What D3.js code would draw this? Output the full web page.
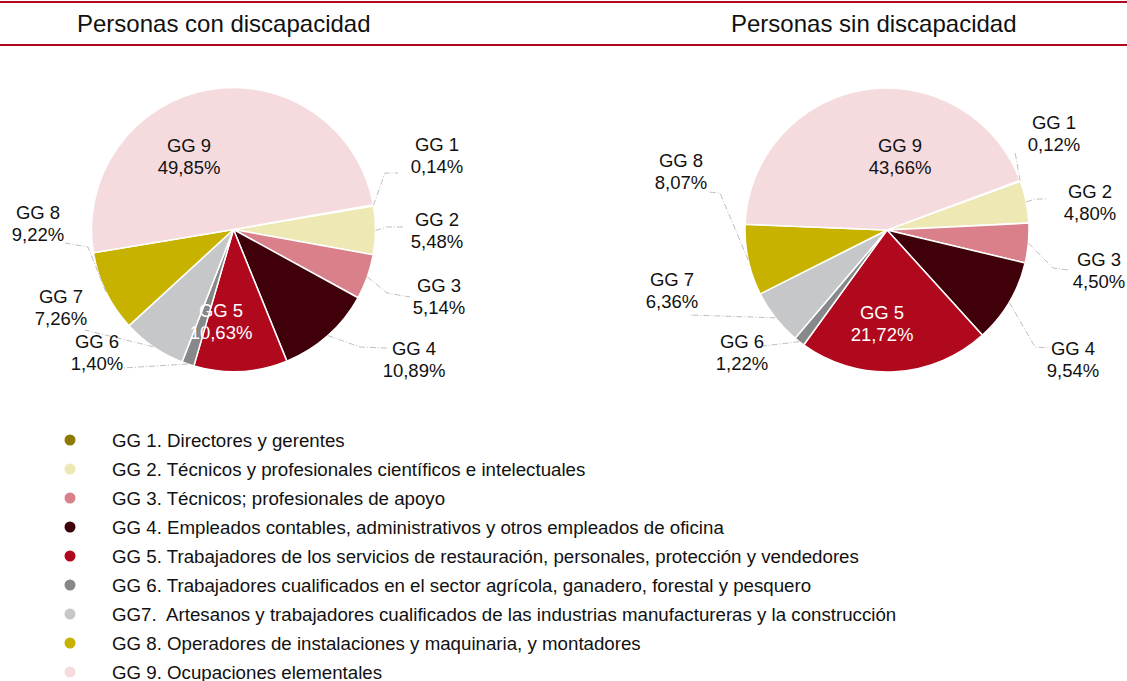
<!DOCTYPE html>
<html>
<head>
<meta charset="utf-8">
<script src="https://cdn.jsdelivr.net/npm/d3@7"></script>
<style>
  body { margin: 0; background: #fff; }
  svg { font-family: "Liberation Sans", Arial, sans-serif; display: block; }
</style>
</head>
<body>
<div id="chart"></div>
<script>
const width = 1127,
  height = 681,
  radius = 142;

// data
const groups = ["GG 1", "GG 2", "GG 3", "GG 4", "GG 5", "GG 6", "GG 7", "GG 8", "GG 9"];
const conDiscapacidad = [0.14, 5.48, 5.14, 10.89, 10.63, 1.40, 7.26, 9.22, 49.85];
const sinDiscapacidad = [0.12, 4.80, 4.50, 9.54, 21.72, 1.22, 6.36, 8.07, 43.66];
const legendLabels = [
  "GG 1. Directores y gerentes",
  "GG 2. Técnicos y profesionales científicos e intelectuales",
  "GG 3. Técnicos; profesionales de apoyo",
  "GG 4. Empleados contables, administrativos y otros empleados de oficina",
  "GG 5. Trabajadores de los servicios de restauración, personales, protección y vendedores",
  "GG 6. Trabajadores cualificados en el sector agrícola, ganadero, forestal y pesquero",
  "GG7.  Artesanos y trabajadores cualificados de las industrias manufactureras y la construcción",
  "GG 8. Operadores de instalaciones y maquinaria, y montadores",
  "GG 9. Ocupaciones elementales"
];
const colors = ["#8E7A00", "#EEE8B4", "#D9808A", "#3F000A", "#B0091E", "#86888A", "#C6C7C9", "#C8B200", "#F5DADE"];

// label placement (offsets from pie centre): label [x, y], leader elbow/end
const layoutCon = [
  { label: [203.5, -85.5], leader: [[151.5, -56.5], [164.5, -56.5]] },
  { label: [203.5, -10.5], leader: [[153.5, -2.5], [169.5, -2.5]] },
  { label: [205.5, 55.5], leader: [[153.5, 63.5], [176.5, 67.5]] },
  { label: [180.5, 118.5], leader: [[126.5, 117.5], [153.5, 118.5]] },
  { label: [-12.5, 80.5], inside: true },
  { label: [-136.5, 111.5], leader: [[-110.5, 138.5]] },
  { label: [-172.5, 66.5], leader: [[-148.5, 100.5]] },
  { label: [-195.5, -17.5], leader: [[-145.5, 17.5], [-168.5, 13.5]] },
  { label: [-44.5, -84.5], inside: true }
];
const layoutSin = [
  { label: [167, -108], leader: [[128, -78]] },
  { label: [203, -39], leader: [[148, -31], [160, -31]] },
  { label: [212, 29], leader: [[166, 38], [181, 40]] },
  { label: [186, 118], leader: [[148, 117], [163, 118]] },
  { label: [-5, 82], inside: true },
  { label: [-145, 111], leader: [[-124, 116]] },
  { label: [-215, 49], leader: [[-197, 85]] },
  { label: [-206, -70], leader: [[-167, -37], [-179, -38]] },
  { label: [13, -85], inside: true }
];

const fmt = v => d3.format(".2f")(v).replace(".", ",") + "%";
const deg = Math.PI / 180;

const svg = d3.select("#chart")
  .append("svg")
  .attr("width", width)
  .attr("height", height);

// header rules
svg.append("line")
  .attr("x1", 0).attr("x2", width)
  .attr("y1", 2).attr("y2", 2)
  .attr("stroke", "#B0071E").attr("stroke-width", 2);
svg.append("line")
  .attr("x1", 0).attr("x2", width)
  .attr("y1", 45).attr("y2", 45)
  .attr("stroke", "#B0071E").attr("stroke-width", 2);

svg.append("text")
  .attr("x", 77).attr("y", 32)
  .style("font-size", "24px")
  .attr("fill", "#111")
  .text("Personas con discapacidad");
svg.append("text")
  .attr("x", 731).attr("y", 32)
  .style("font-size", "24px")
  .attr("fill", "#111")
  .text("Personas sin discapacidad");

function drawPie(values, cx, cy, startDeg, layout) {
  const pie = d3.pie()
    .sort(null)
    .startAngle(startDeg * deg)
    .endAngle(startDeg * deg + 2 * Math.PI);

  const arcs = pie(values);
  const arc = d3.arc().innerRadius(0).outerRadius(radius);

  const g = svg.append("g").attr("transform", `translate(${cx},${cy})`);

  g.selectAll("path")
    .data(arcs)
    .join("path")
    .attr("d", arc)
    .attr("fill", (d, i) => colors[i])
    .attr("stroke", "#fff")
    .attr("stroke-width", 1.5)
    .attr("stroke-linejoin", "round");

  // leader lines start on the rim at the slice's mid angle
  const line = d3.line();
  g.selectAll(".leader")
    .data(arcs.filter((d, i) => layout[i].leader))
    .join("path")
    .attr("class", "leader")
    .attr("fill", "none")
    .attr("stroke", "#BFBFBF")
    .attr("stroke-width", 1)
    .attr("stroke-dasharray", "6,2,1,2")
    .attr("d", d => {
      const a = (d.startAngle + d.endAngle) / 2;
      const start = [Math.sin(a) * radius, -Math.cos(a) * radius];
      return line([start, ...layout[d.index].leader]);
    });

  const labels = g.selectAll(".lbl")
    .data(arcs)
    .join("text")
    .attr("class", "lbl")
    .attr("text-anchor", "middle")
    .style("font-size", "18.5px")
    .attr("fill", (d, i) => i === 4 ? "#fff" : "#111")
    .attr("transform", (d, i) => `translate(${layout[i].label[0]},${layout[i].label[1] + 6.5})`);

  labels.append("tspan")
    .attr("x", 0)
    .text((d, i) => groups[i]);
  labels.append("tspan")
    .attr("x", 0)
    .attr("dy", 22.5)
    .text(d => fmt(d.data));
}

drawPie(conDiscapacidad, 233.5, 229.5, 80, layoutCon);
drawPie(sinDiscapacidad, 887, 230, 69.5, layoutSin);

// legend
const legend = svg.append("g");
const rowY = d3.scalePoint()
  .domain(d3.range(legendLabels.length))
  .range([440, 672]);

const rows = legend.selectAll("g")
  .data(legendLabels)
  .join("g")
  .attr("transform", (d, i) => `translate(0,${rowY(i)})`);

rows.append("circle")
  .attr("cx", 70)
  .attr("cy", 0)
  .attr("r", 5.5)
  .attr("fill", (d, i) => colors[i]);

rows.append("text")
  .attr("x", 112)
  .attr("y", 6.5)
  .style("font-size", "18.7px")
  .style("white-space", "pre")
  .attr("xml:space", "preserve")
  .attr("fill", "#111")
  .text(d => d);
</script>
</body>
</html>
